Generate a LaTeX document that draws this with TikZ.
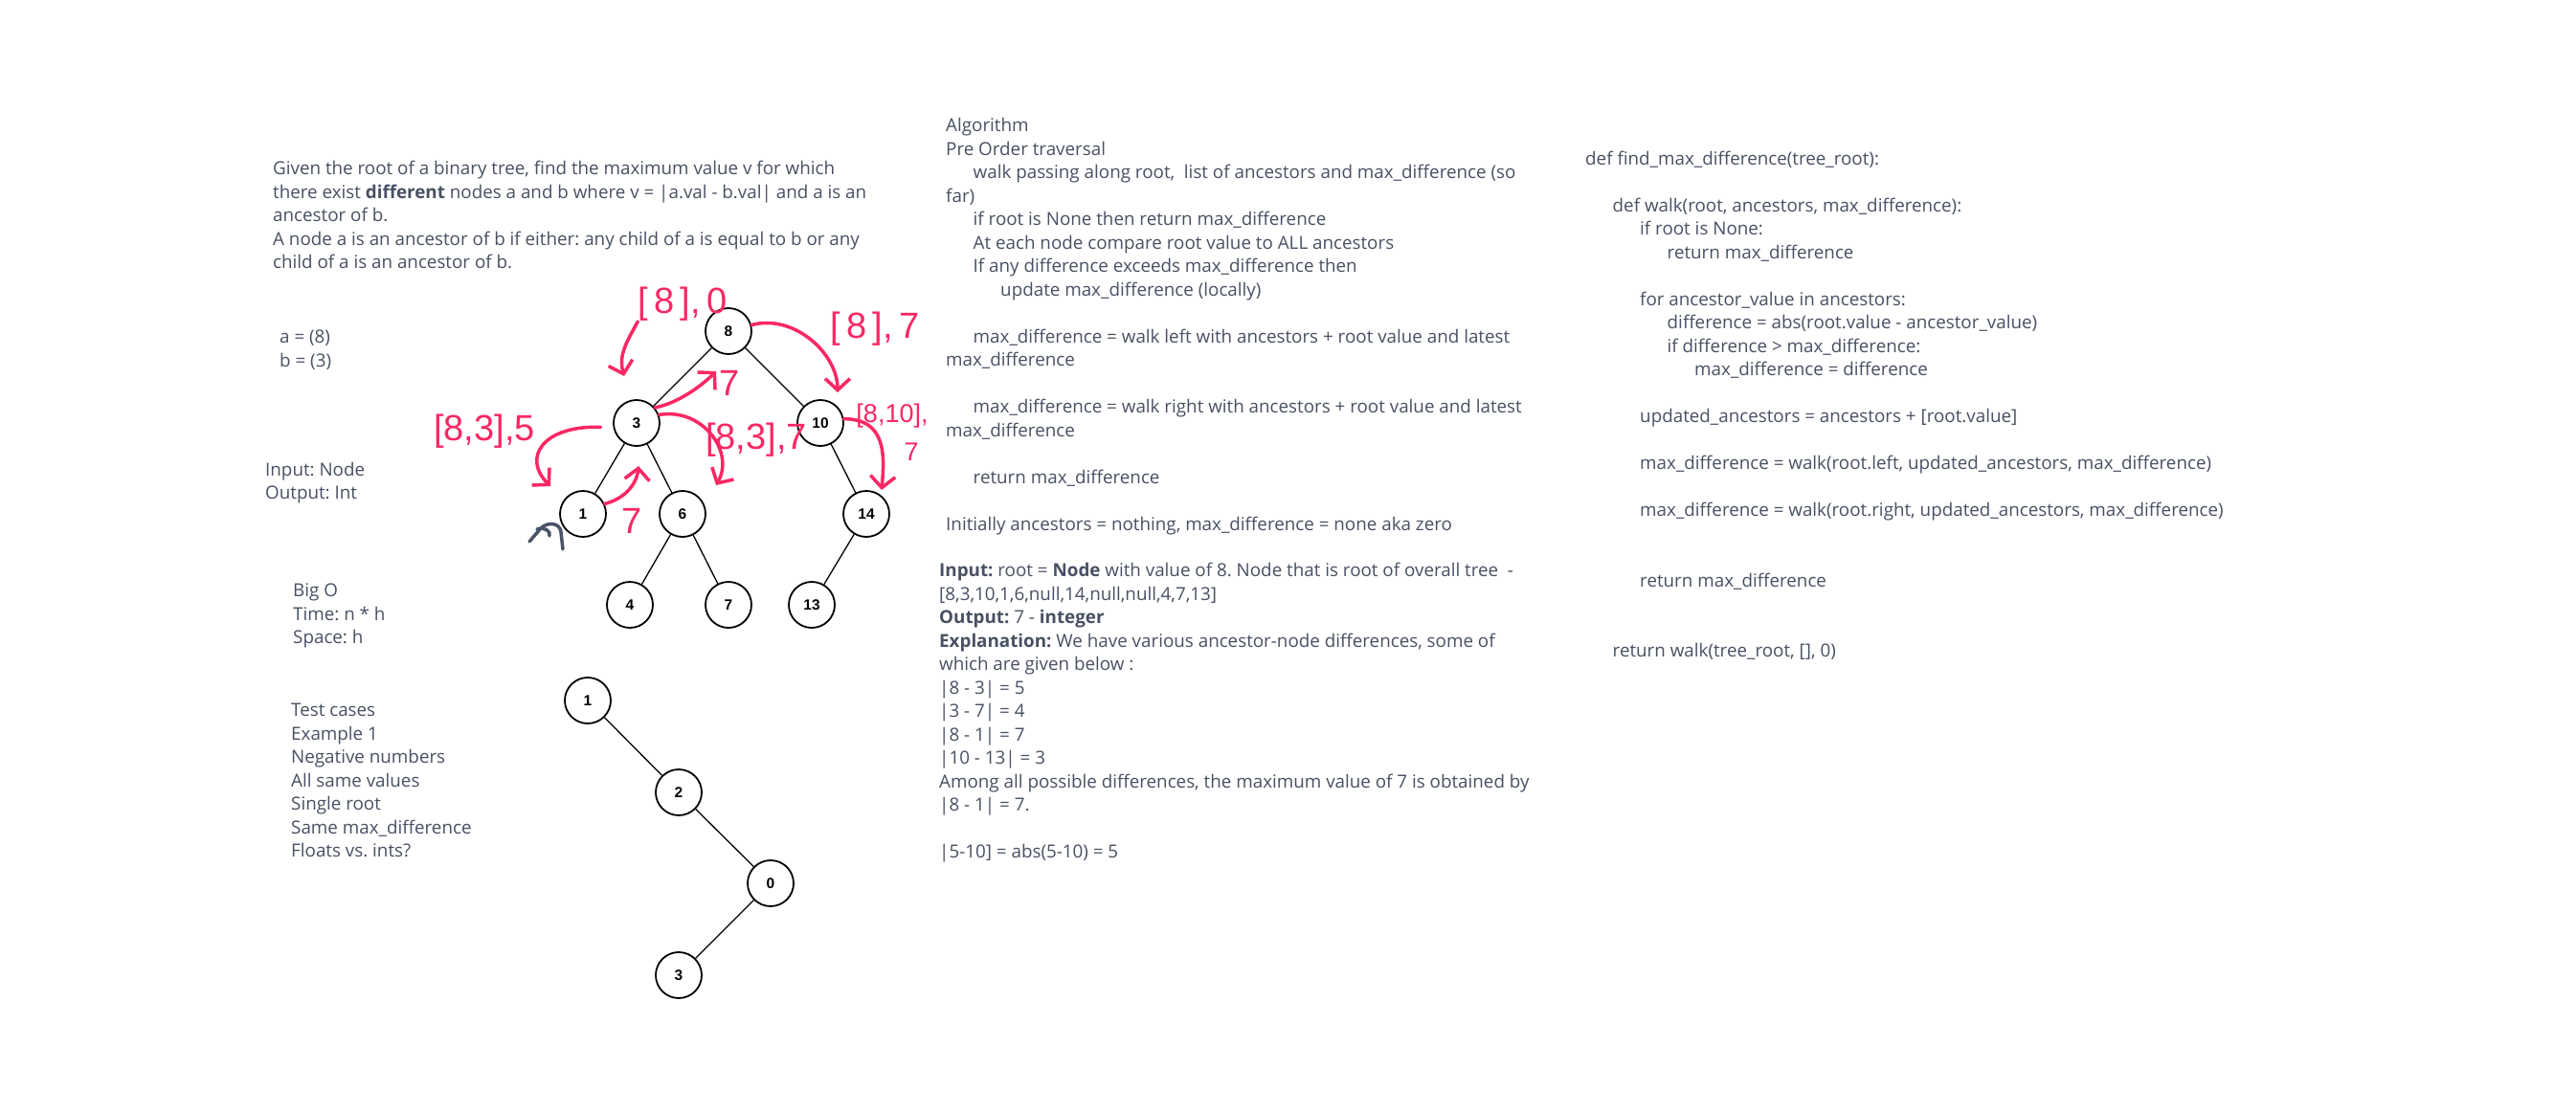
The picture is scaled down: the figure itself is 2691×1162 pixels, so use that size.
\documentclass[tikz,border=0pt]{standalone}
\usepackage{fontspec}
\setmainfont{Open Sans}
\newfontfamily\keyfont{Liberation Sans}
\usetikzlibrary{arrows.meta}
\definecolor{ink}{RGB}{72,80,99}
\definecolor{pen}{RGB}{250,40,100}
\definecolor{pencil}{RGB}{74,84,104}
\newcommand{\ind}{\hspace*{28.5pt}}
\frenchspacing
\tikzset{
  tnode/.style={circle, draw, line width=1.8pt, minimum size=48pt, inner sep=0pt,
    font=\keyfont\bfseries\fontsize{15.5}{16}\selectfont},
  edge/.style={line width=1.3pt},
  % notes are placed by the baseline of their last line
  note/.style={anchor=base west, inner sep=0pt, align=left, text=ink,
    font=\fontsize{18.8}{24.5}\selectfont},
  hand/.style={inner sep=0pt, text=pen, font=\keyfont\fontsize{38}{40}\selectfont},
  scrib/.style={pen, line width=3.5pt, line cap=round,
    -{Straight Barb[length=12pt,width=26pt]}},
}

\begin{document}
\begin{tikzpicture}[x=1pt, y=-1pt]
  \fill[white] (0,0) rectangle (2691,1162);

  % left column: problem and notes
  \node[note] (problem) at (285,280.5) {Given the root of a binary tree, find the maximum value v for which\\
    there exist \textbf{different} nodes a and b where v = |a.val - b.val| and a is an\\
    ancestor of b.\\
    A node a is an ancestor of b if either: any child of a is equal to b or any\\
    child of a is an ancestor of b.};
  \node[note] (ab) at (292,383) {a = (8)\\b = (3)};
  \node[note] (io) at (277,521.5) {Input: Node\\Output: Int};
  \node[note] (bigo) at (306,672.5) {Big O\\Time: n * h\\Space: h};
  \node[note] (tests) at (304,895.5) {Test cases\\Example 1\\Negative numbers\\All same values\\
    Single root\\Same max\_difference\\Floats vs. ints?};

  % middle column: algorithm and example
  \node[note] (algo) at (988,554) {Algorithm\\
    Pre Order traversal\\
    \ind walk passing along root, \ list of ancestors and max\_difference (so\\
    far)\\
    \ind if root is None then return max\_difference\\
    \ind At each node compare root value to ALL ancestors\\
    \ind If any difference exceeds max\_difference then\\
    \ind\ind update max\_difference (locally)\\[24.5pt]
    \ind max\_difference = walk left with ancestors + root value and latest\\
    max\_difference\\[24.5pt]
    \ind max\_difference = walk right with ancestors + root value and latest\\
    max\_difference\\[24.5pt]
    \ind return max\_difference\\[24.5pt]
    Initially ancestors = nothing, max\_difference = none aka zero};
  \node[note] (example) at (981,896.5) {\textbf{Input:} root = \textbf{Node} with value of 8. Node that is root of overall tree \ -\\
    {[}8,3,10,1,6,null,14,null,null,4,7,13]\\
    \textbf{Output:} 7 - \textbf{integer}\\
    \textbf{Explanation:} We have various ancestor-node differences, some of\\
    which are given below :\\
    |8 - 3| = 5\\
    |3 - 7| = 4\\
    |8 - 1| = 7\\
    |10 - 13| = 3\\
    Among all possible differences, the maximum value of 7 is obtained by\\
    |8 - 1| = 7.\\[24.5pt]
    |5-10] = abs(5-10) = 5};

  % right column: code
  \node[note] (code) at (1656,686.5) {def find\_max\_difference(tree\_root):\\[24.5pt]
    \ind def walk(root, ancestors, max\_difference):\\
    \ind\ind if root is None:\\
    \ind\ind\ind return max\_difference\\[24.5pt]
    \ind\ind for ancestor\_value in ancestors:\\
    \ind\ind\ind difference = abs(root.value - ancestor\_value)\\
    \ind\ind\ind if difference > max\_difference:\\
    \ind\ind\ind\ind max\_difference = difference\\[24.5pt]
    \ind\ind updated\_ancestors = ancestors + [root.value]\\[24.5pt]
    \ind\ind max\_difference = walk(root.left, updated\_ancestors, max\_difference)\\[24.5pt]
    \ind\ind max\_difference = walk(root.right, updated\_ancestors, max\_difference)\\[49pt]
    \ind\ind return max\_difference\\[49pt]
    \ind return walk(tree\_root, [], 0)};

  % example tree
  \node[tnode] (n8) at (761,346) {8};
  \node[tnode] (n3) at (665,442) {3};
  \node[tnode] (n10) at (857,442) {10};
  \node[tnode] (n1) at (609,537) {1};
  \node[tnode] (n6) at (713,537) {6};
  \node[tnode] (n14) at (905,537) {14};
  \node[tnode] (n4) at (658,632) {4};
  \node[tnode] (n7) at (761,632) {7};
  \node[tnode] (n13) at (848,632) {13};
  \foreach \a/\b in {n8/n3, n8/n10, n3/n1, n3/n6, n10/n14, n6/n4, n6/n7, n14/n13}
    \draw[edge] (\a) -- (\b);

  % second tree
  \node[tnode] (m1) at (614,732) {1};
  \node[tnode] (m2) at (709,828) {2};
  \node[tnode] (m0) at (805,923) {0};
  \node[tnode] (m3) at (709,1019) {3};
  \foreach \a/\b in {m1/m2, m2/m0, m0/m3}
    \draw[edge] (\a) -- (\b);

  % handwritten walk notes
  \node[hand] (l80) at (713,318) {[\,8\,],\,0};
  \node[hand] (l87) at (914,344) {[\,8\,],\,7};
  \node[hand, align=right, font=\keyfont\fontsize{27}{40}\selectfont] (l810) at (932,452) {[8,10],\\7\hspace*{10pt}};
  \node[hand] (l835) at (506,451) {[8,3],5};
  \node[hand] (l837) at (790,460) {[8,3],7};
  \node[hand] (r38) at (762,400) {7};
  \node[hand] (r13) at (660,544) {7};
  \coordinate (t3) at (652,393);
  \coordinate (t38) at (748,388);
  \coordinate (t810) at (875,410);
  \coordinate (t1014) at (921,512);
  \coordinate (t31) at (575,508);
  \coordinate (t13) at (667,487);
  \coordinate (t36) at (748,507);
  \draw[scrib] (l80.south west) .. controls +(-12,22) and +(-6,-22) .. (t3);
  \draw[scrib] (n3.40) .. controls +(25,-5) and +(-15,15) .. (t38);
  \draw[scrib] (n8.15) .. controls +(45,-12) and +(0,-40) .. (t810);
  \draw[scrib] (n10.10) .. controls +(45,0) and +(3,-35) .. (t1014);
  \draw[scrib] ([xshift=-13pt]n3.190) .. controls +(-60,-2) and +(-30,-30) .. (t31);
  \draw[scrib] (n1.25) .. controls +(20,-5) and +(-2,20) .. (t13);
  \draw[scrib] (n3.20) .. controls +(45,-8) and +(20,-35) .. (t36);
  \draw[pencil, line width=3.5pt, line cap=round, line join=round]
    (553,566) -- (565,552) .. controls (572,545) and (585,546) .. (586,556) -- (588,574)
    (561,553) .. controls (568,550) and (576,555) .. (574,560);
\end{tikzpicture}
\end{document}
